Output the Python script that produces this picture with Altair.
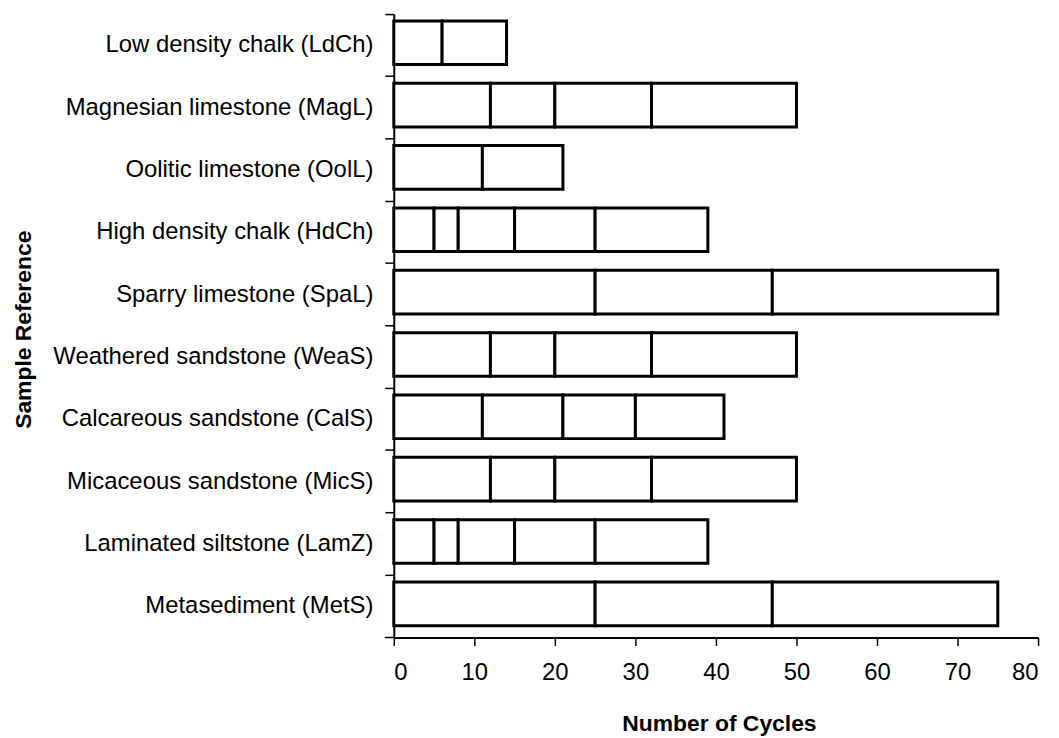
import altair as alt
import pandas as pd

categories = [
    "Low density chalk (LdCh)",
    "Magnesian limestone (MagL)",
    "Oolitic limestone (OolL)",
    "High density chalk (HdCh)",
    "Sparry limestone (SpaL)",
    "Weathered sandstone (WeaS)",
    "Calcareous sandstone (CalS)",
    "Micaceous sandstone (MicS)",
    "Laminated siltstone (LamZ)",
    "Metasediment (MetS)",
]

# cumulative cycle counts at which each segment ends (segments start at 0)
boundaries = [
    [0, 6, 14],
    [0, 12, 20, 32, 50],
    [0, 11, 21],
    [0, 5, 8, 15, 25, 39],
    [0, 25, 47, 75],
    [0, 12, 20, 32, 50],
    [0, 11, 21, 30, 41],
    [0, 12, 20, 32, 50],
    [0, 5, 8, 15, 25, 39],
    [0, 25, 47, 75],
]

x_ticks = [0, 10, 20, 30, 40, 50, 60, 70, 80]

rows = []
for cat, b in zip(categories, boundaries):
    for i in range(len(b) - 1):
        rows.append({"sample": cat, "start": b[i], "end": b[i + 1]})
df = pd.DataFrame(rows)

FONT = "Liberation Sans"

bars = alt.Chart(df).mark_bar(
    fill="white",
    stroke="black",
    strokeWidth=3,
    strokeJoin="miter",
    height={"band": 0.7},
    yOffset=-2.5,
).encode(
    y=alt.Y(
        "sample:N",
        sort=categories,
        scale=alt.Scale(paddingInner=0, paddingOuter=0),
        axis=alt.Axis(
            title="Sample Reference",
            labelFont=FONT,
            labelFontSize=24,
            labelColor="black",
            labelLimit=500,
            labelPadding=12,
            tickSize=9,
            tickColor="black",
            tickWidth=1.5,
            bandPosition=0,
            domainColor="black",
            domainWidth=2,
            grid=False,
            titleFont=FONT,
            titleFontSize=23,
            titleFontWeight="bold",
            titleColor="black",
            titleX=-383,
            titleY=317,
            titleBaseline="top",
            titleAngle=270,
        ),
    ),
    x=alt.X(
        "start:Q",
        scale=alt.Scale(domain=[0, 80], nice=False),
        axis=alt.Axis(
            values=x_ticks,
            title="Number of Cycles",
            labelFont=FONT,
            labelFontSize=24,
            labelColor="black",
            labelPadding=15,
            tickSize=8,
            tickColor="black",
            tickWidth=1.5,
            domainColor="black",
            domainWidth=2,
            grid=False,
            titleFont=FONT,
            titleFontSize=23,
            titleFontWeight="bold",
            titleColor="black",
            titleX=327,
            titleY=94,
            titleBaseline="alphabetic",
        ),
    ),
    x2="end:Q",
)

bottom_tick = alt.Chart(alt.Data(values=[{}])).mark_rule(
    color="black", strokeWidth=1.5
).encode(x=alt.value(-9), x2=alt.value(0), y=alt.value(627))

chart = alt.layer(bars, bottom_tick).properties(
    width=648,
    height=627,
    padding={"left": 388, "top": 4, "right": 13, "bottom": 99},
    autosize="none",
    background="white",
).configure_view(stroke=None)

chart.save("out.html", embed_options={"renderer": "svg", "actions": False})
